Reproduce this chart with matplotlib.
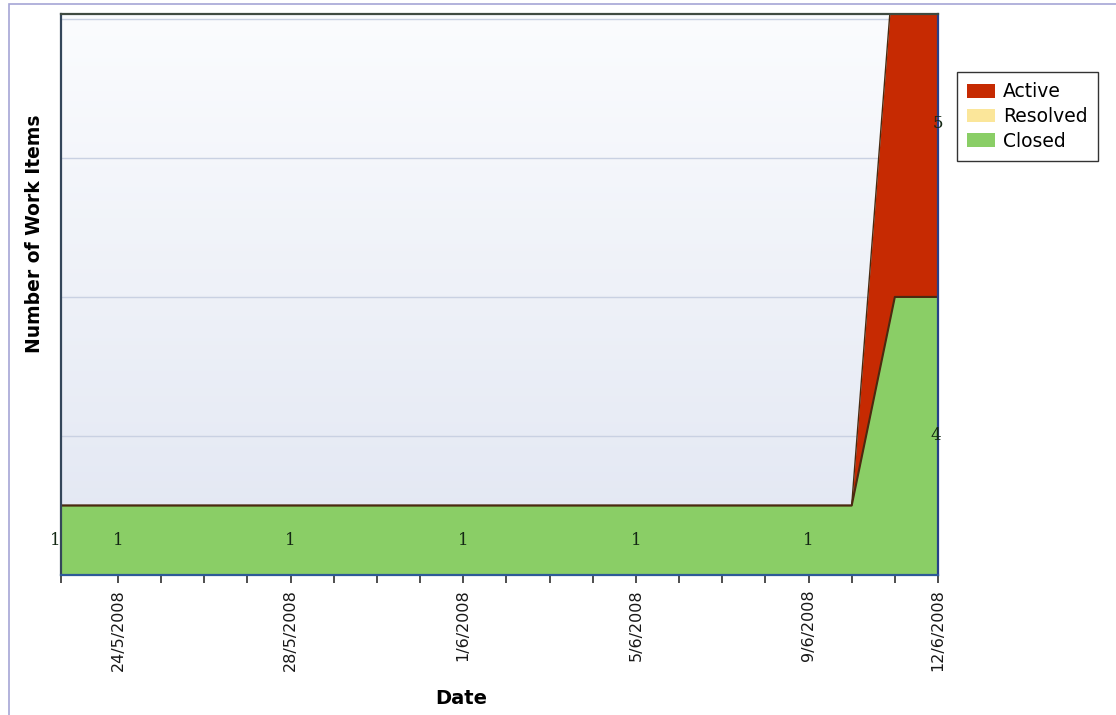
"""Work item status over time: stacked area chart (Active / Resolved / Closed)."""

from datetime import datetime, timedelta

import matplotlib
matplotlib.use('Agg')
import matplotlib.pyplot as plt
import matplotlib.dates as mdates
import numpy as np
from matplotlib.patches import Patch, Rectangle

# daily snapshots
dates = [datetime(2008, 5, 22) + timedelta(days=i) for i in range(22)]
closed = [1] * 20 + [4, 4]
resolved = [0] * 22
active = [0] * 20 + [5, 5]

label_days = ['24/5/2008', '28/5/2008', '1/6/2008', '5/6/2008', '9/6/2008', '12/6/2008']

COLORS = {'Active': '#c62a02', 'Resolved': '#fbe69a', 'Closed': '#8ace66'}
EDGE = '#4a2a10'


def main():
    fig = plt.figure(figsize=(11.16, 7.15), dpi=100)
    W, H = 1116, 715
    ax = fig.add_axes([61 / W, 1 - 575 / H, (938 - 61) / W, (575 - 14) / H])

    x0 = datetime(2008, 5, 22, 16, 20)
    x1 = datetime(2008, 6, 12)
    ax.set_xlim(x0, x1)
    ax.set_ylim(0, 8.07)

    # pale gradient background
    grad = np.linspace(0, 1, 256).reshape(-1, 1)
    cmap = matplotlib.colors.LinearSegmentedColormap.from_list(
        'bg', ['#e1e6f2', '#fbfcfe'])
    ax.imshow(grad, extent=[0, 1, 0, 1], transform=ax.transAxes, origin='lower',
              cmap=cmap, aspect='auto', zorder=0)

    for yv in (2, 4, 6, 8):
        ax.axhline(yv, color='#c9d1e2', lw=1.0, zorder=1)

    xd = mdates.date2num(dates)
    c = np.array(closed, float)
    r = c + np.array(resolved, float)
    a = r + np.array(active, float)
    ax.fill_between(xd, 0, c, color=COLORS['Closed'], lw=0, zorder=2)
    ax.fill_between(xd, c, r, color=COLORS['Resolved'], lw=0, zorder=2)
    ax.fill_between(xd, r, a, color=COLORS['Active'], lw=0, zorder=2)
    ax.plot(xd, c, color=EDGE, lw=1.5, zorder=3)
    ax.plot(xd, a, color=EDGE, lw=1.0, zorder=3)

    # value labels
    lab_font = dict(family='DejaVu Serif', fontsize=12, color='#142814',
                    ha='center', va='center', zorder=6)
    for d in label_days[:-1]:
        i = dates.index(datetime.strptime(d, '%d/%m/%Y'))
        ax.text(xd[i], closed[i] / 2, str(closed[i]), **lab_font)
    ax.text(mdates.date2num(x0) - 0.02, closed[0] / 2, str(closed[0]),
            **{**lab_font, 'ha': 'right'})
    ax.text(xd[-1] - 0.05, closed[-1] / 2, str(closed[-1]), **lab_font)
    ax.text(xd[-1], closed[-1] + active[-1] / 2, str(active[-1]),
            clip_on=False, **lab_font)

    # ticks: one at the axis start, then every day from 24/5
    tick_dates = [x0] + [datetime(2008, 5, 24) + timedelta(days=i) for i in range(20)]
    labels = [d.strftime('%-d/%-m/%Y') if d.strftime('%-d/%-m/%Y') in label_days
              else '' for d in tick_dates]
    ax.set_xticks(mdates.date2num(tick_dates))
    ax.set_xticklabels(labels, rotation=90, fontsize=11.5, color='#181818')
    ax.tick_params(axis='x', length=6, width=1.2, color='#303030', pad=4)
    ax.set_yticks([])

    ax.spines['left'].set_color('#34465a')
    ax.spines['bottom'].set_color('#2d5a98')
    ax.spines['right'].set_color('#27408a')
    ax.spines['top'].set_color('#3f4a40')
    for s in ax.spines.values():
        s.set_linewidth(1.6)
        s.set_zorder(5)

    ax.set_xlabel('Date', fontsize=14, fontweight='bold')
    ax.set_ylabel('Number of Work Items', fontsize=13.5, fontweight='bold')
    ax.yaxis.set_label_coords(-0.019, (575 - 234) / 561)
    ax.xaxis.set_label_coords((461 - 61) / 877, -(698 - 575) / 561)
    ax.xaxis.label.set_va('center')

    handles = [Patch(facecolor=COLORS[k], edgecolor='none') for k in COLORS]
    leg = fig.legend(handles, list(COLORS), loc='upper left',
                     bbox_to_anchor=(957 / W, 1 - 72 / H), fontsize=13.5,
                     frameon=True, fancybox=False, borderpad=0.55,
                     handlelength=1.5, handleheight=0.75, handletextpad=0.4,
                     labelspacing=0.3, borderaxespad=0)
    leg.get_frame().set_edgecolor('black')
    leg.get_frame().set_linewidth(1.0)

    # outer chart border
    fig.add_artist(Rectangle((9 / W, -0.05), 1.2, 1 - 4 / H + 0.05,
                             transform=fig.transFigure, fill=False,
                             edgecolor='#a6a6d6', lw=1.2))

    fig.savefig('out.png', dpi=100)


if __name__ == '__main__':
    main()
